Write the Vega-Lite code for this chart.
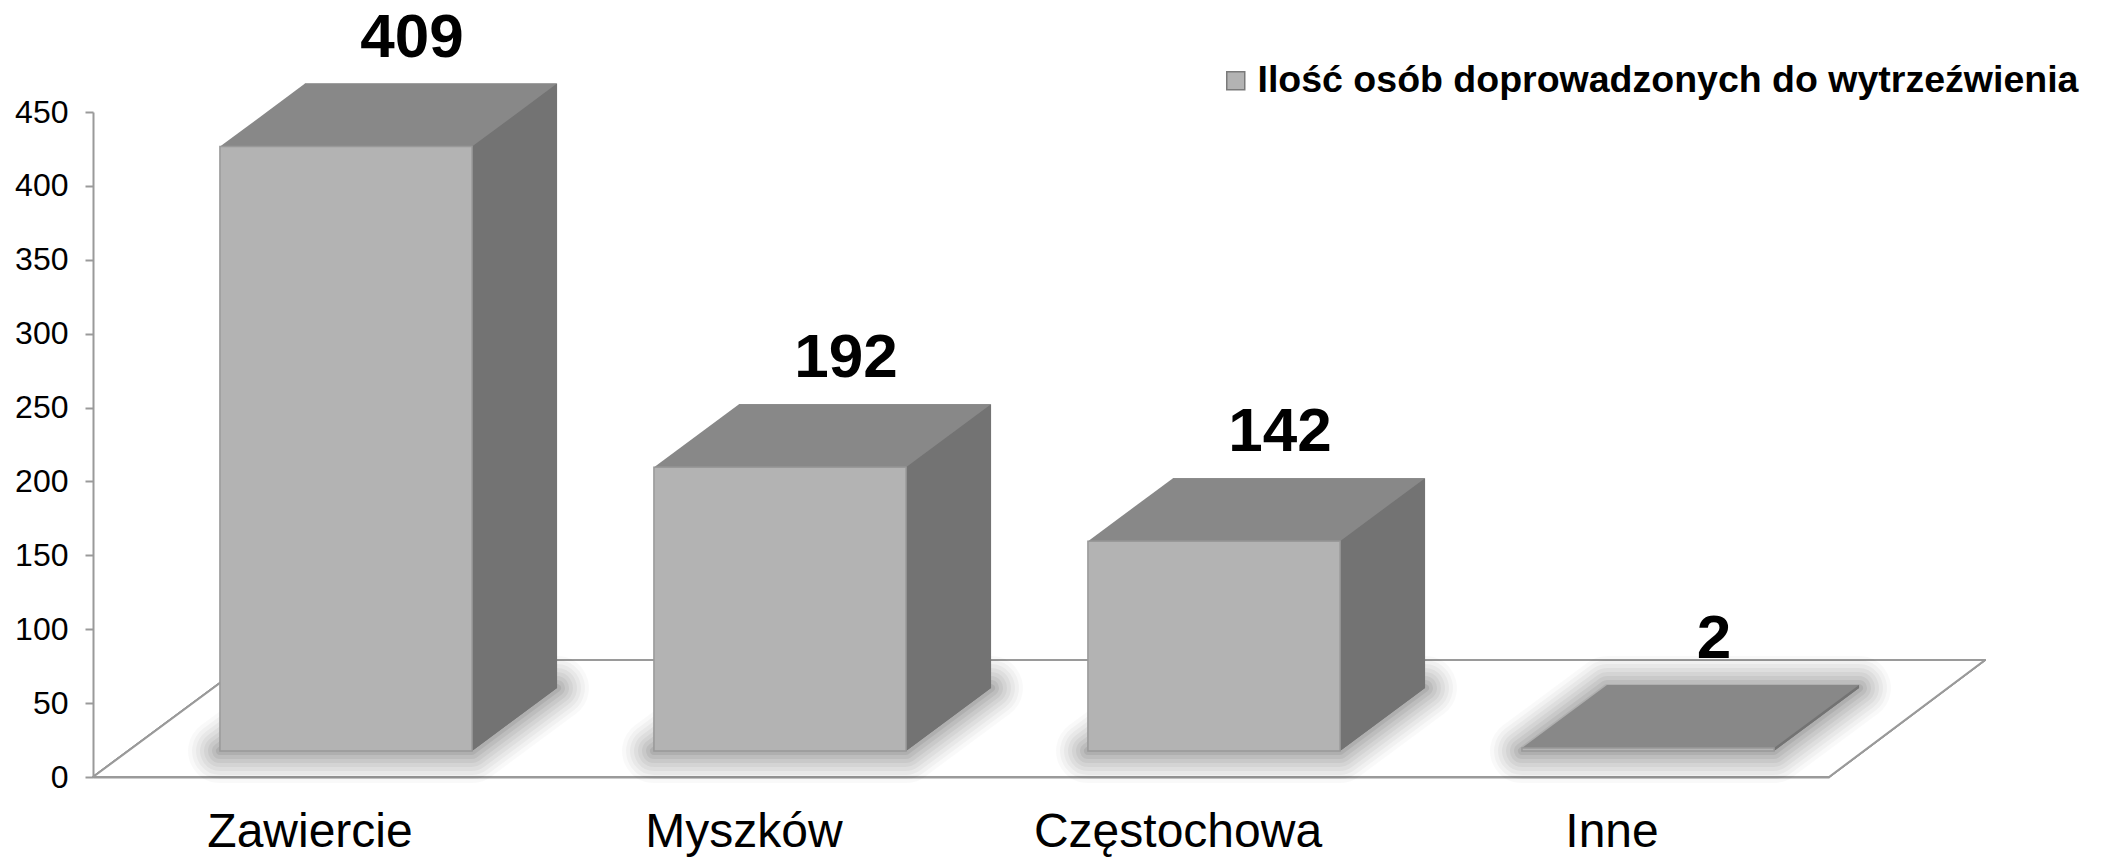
{
  "$schema": "https://vega.github.io/schema/vega-lite/v6.json",
  "autosize": {"type": "none"},
  "padding": {"left": 93, "top": 112, "right": 275, "bottom": 85},
  "width": 1736,
  "height": 665,
  "background": "white",
  "config": {
    "view": {"stroke": null},
    "font": "Liberation Sans",
    "point": {"size": 4, "filled": true, "opacity": 1, "strokeJoin": "round", "shape": "M-90,-26 L162,-26 L247,-89 L-5,-89 Z", "fill": "#000000", "stroke": "#000000"}
  },
  "data": {
    "values": [
      {"miasto": "Zawiercie", "ilosc": 409, "seria": "Ilość osób doprowadzonych do wytrzeźwienia"},
      {"miasto": "Myszków", "ilosc": 192, "seria": "Ilość osób doprowadzonych do wytrzeźwienia"},
      {"miasto": "Częstochowa", "ilosc": 142, "seria": "Ilość osób doprowadzonych do wytrzeźwienia"},
      {"miasto": "Inne", "ilosc": 2, "seria": "Ilość osób doprowadzonych do wytrzeźwienia"}
    ]
  },
  "encoding": {
    "x": {
      "field": "miasto",
      "type": "nominal",
      "sort": null,
      "scale": {"paddingInner": 0.419, "paddingOuter": 0.2095},
      "axis": {
        "title": null,
        "ticks": false,
        "domain": true,
        "domainColor": "#9a9a9a",
        "domainWidth": 2,
        "labelAngle": 0,
        "labelFontSize": 48,
        "labelColor": "#000000",
        "labelPadding": 31,
        "labelLimit": 0,
        "labelFont": "Liberation Sans"
      }
    }
  },
  "layer": [
    {
      "mark": {
        "type": "point",
        "shape": "M-217,0 L1519,0 L1675,-117 L-59,-117 Z",
        "filled": true,
        "fill": "#ffffff",
        "stroke": "#9a9a9a",
        "strokeWidth": 2
      },
      "encoding": {
        "x": {"datum": "Zawiercie"},
        "y": {"datum": 0}
      }
    },
    {"mark": {"type": "point", "strokeWidth": 64, "fillOpacity": 0.025, "strokeOpacity": 0.025}, "encoding": {"y": {"datum": 0}}},
    {"mark": {"type": "point", "strokeWidth": 56, "fillOpacity": 0.03, "strokeOpacity": 0.03}, "encoding": {"y": {"datum": 0}}},
    {"mark": {"type": "point", "strokeWidth": 48, "fillOpacity": 0.035, "strokeOpacity": 0.035}, "encoding": {"y": {"datum": 0}}},
    {"mark": {"type": "point", "strokeWidth": 40, "fillOpacity": 0.04, "strokeOpacity": 0.04}, "encoding": {"y": {"datum": 0}}},
    {"mark": {"type": "point", "strokeWidth": 32, "fillOpacity": 0.045, "strokeOpacity": 0.045}, "encoding": {"y": {"datum": 0}}},
    {"mark": {"type": "point", "strokeWidth": 24, "fillOpacity": 0.05, "strokeOpacity": 0.05}, "encoding": {"y": {"datum": 0}}},
    {"mark": {"type": "point", "strokeWidth": 16, "fillOpacity": 0.06, "strokeOpacity": 0.06}, "encoding": {"y": {"datum": 0}}},
    {"mark": {"type": "point", "strokeWidth": 8, "fillOpacity": 0.07, "strokeOpacity": 0.07}, "encoding": {"y": {"datum": 0}}},
    {
      "mark": {
        "type": "point",
        "shape": "M162,-26 L162,-89 L247,-89 Z",
        "fill": "#737373",
        "strokeWidth": 0
      },
      "encoding": {
        "y": {"datum": 0}
      }
    },
    {
      "mark": {
        "type": "bar",
        "fill": "#737373",
        "xOffset": 121,
        "x2Offset": 121,
        "yOffset": -89,
        "y2Offset": -89
      },
      "encoding": {
        "y": {"field": "ilosc", "type": "quantitative"}
      }
    },
    {
      "mark": {
        "type": "point",
        "fill": "#888888",
        "strokeWidth": 0
      },
      "encoding": {
        "y": {"field": "ilosc", "type": "quantitative"}
      }
    },
    {
      "mark": {
        "type": "bar",
        "xOffset": 36,
        "x2Offset": 36,
        "yOffset": -26,
        "y2Offset": -26,
        "stroke": "#999999",
        "strokeWidth": 1.5
      },
      "encoding": {
        "y": {
          "field": "ilosc",
          "type": "quantitative",
          "scale": {"domain": [0, 450], "nice": false},
          "axis": {
            "title": null,
            "values": [0, 50, 100, 150, 200, 250, 300, 350, 400, 450],
            "grid": false,
            "domainColor": "#9a9a9a",
            "domainWidth": 2,
            "tickColor": "#9a9a9a",
            "tickWidth": 2,
            "tickSize": 8,
            "labelFontSize": 32,
            "labelColor": "#000000",
            "labelPadding": 17,
            "labelFont": "Liberation Sans"
          }
        },
        "fill": {
          "field": "seria",
          "type": "nominal",
          "scale": {"range": ["#b3b3b3"]},
          "legend": {
            "title": null,
            "orient": "none",
            "legendX": 1124,
            "legendY": -50,
            "symbolType": "square",
            "symbolSize": 324,
            "symbolStrokeColor": "#7a7a7a",
            "symbolStrokeWidth": 1.5,
            "labelFontSize": 37.5,
            "labelFontWeight": "bold",
            "labelColor": "#000000",
            "labelFont": "Liberation Sans",
            "labelOffset": 3,
            "labelLimit": 1000
          }
        }
      }
    },
    {
      "mark": {
        "type": "text",
        "fontSize": 62,
        "fontWeight": "bold",
        "font": "Liberation Sans",
        "color": "#000000",
        "align": "center",
        "baseline": "middle",
        "dx": 102,
        "dy": -135
      },
      "encoding": {
        "y": {"field": "ilosc", "type": "quantitative"},
        "text": {"field": "ilosc", "type": "quantitative"}
      }
    }
  ]
}
